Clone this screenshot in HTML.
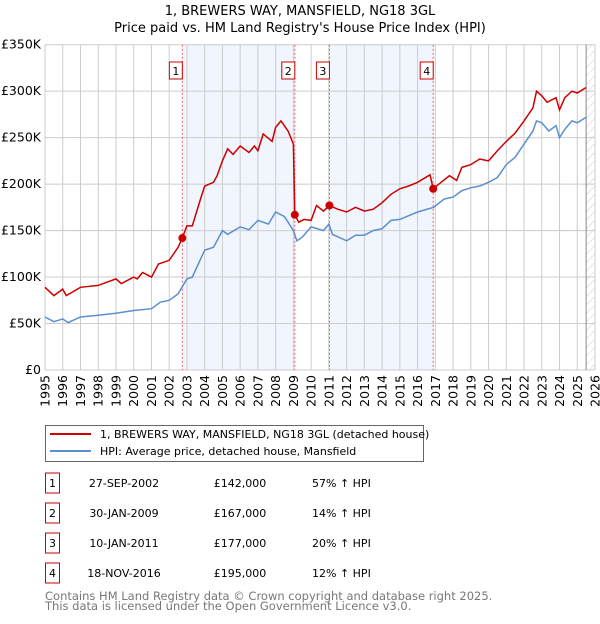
<!DOCTYPE html>
<html><head><meta charset="utf-8"><style>
body{margin:0;background:#fff;font-family:"DejaVu Sans","Liberation Sans",sans-serif;}
svg text{font-family:"DejaVu Sans","Liberation Sans",sans-serif;}
</style></head><body>
<svg id="c" width="600" height="620" xmlns="http://www.w3.org/2000/svg">
<defs><pattern id="hatch" width="6" height="6" patternUnits="userSpaceOnUse" patternTransform="rotate(45)"><line x1="0" y1="0" x2="0" y2="6" stroke="#ccc" stroke-width="1"/></pattern></defs>
<text x="300" y="15" text-anchor="middle" font-size="13">1, BREWERS WAY, MANSFIELD, NG18 3GL</text>
<text x="300" y="32" text-anchor="middle" font-size="13">Price paid vs. HM Land Registry's House Price Index (HPI)</text>
<g id="plot"></g>
<g>
<rect x="45.5" y="425.5" width="378" height="36" fill="#fff" stroke="#666"/>
<line x1="50" y1="434" x2="91" y2="434" stroke="#cc0000" stroke-width="2"/>
<text x="100" y="438" font-size="11">1, BREWERS WAY, MANSFIELD, NG18 3GL (detached house)</text>
<line x1="50" y1="451" x2="91" y2="451" stroke="#5b8fd0" stroke-width="2"/>
<text x="100" y="455" font-size="11">HPI: Average price, detached house, Mansfield</text>
</g>
<g id="tbl" font-size="11"></g>
<text x="45" y="600" font-size="11.5" fill="#777">Contains HM Land Registry data © Crown copyright and database right 2025.</text>
<text x="45" y="610" font-size="11.5" fill="#777">This data is licensed under the Open Government Licence v3.0.</text>
</svg>
<script>
const hpiYears=[1995,1995.5,1996,1996.3,1997,1998,1999,2000,2001,2001.5,2002,2002.5,2003,2003.3,2004,2004.5,2005,2005.3,2006,2006.5,2007,2007.6,2008,2008.5,2009,2009.2,2009.5,2010,2010.7,2011,2011.2,2012,2012.5,2013,2013.5,2014,2014.5,2015,2015.5,2016,2016.9,2017.5,2018,2018.5,2019,2019.5,2020,2020.5,2021,2021.5,2022,2022.5,2022.7,2023,2023.4,2023.8,2024,2024.3,2024.7,2025,2025.5];
const hpiValues=[57,52,55,51,57,59,61,64,66,73,75,82,98,100,129,132,150,146,154,151,161,157,170,165,150,139,143,154,150,157,146,139,145,145,150,152,161,162,166,170,175,184,186,193,196,198,202,207,221,229,243,257,268,266,257,263,250,259,268,266,272];
const priceYears=[1995,1995.5,1996,1996.2,1997,1998,1999,1999.3,2000,2000.2,2000.5,2001,2001.4,2002,2002.5,2002.74,2003,2003.3,2003.8,2004,2004.5,2004.7,2005,2005.3,2005.6,2006,2006.5,2006.8,2007,2007.3,2007.8,2008,2008.3,2008.7,2009,2009.08,2009.3,2009.6,2010,2010.3,2010.7,2011.03,2011.5,2012,2012.5,2013,2013.5,2014,2014.5,2015,2015.5,2016,2016.7,2016.88,2017.2,2017.8,2018.2,2018.5,2019,2019.5,2020,2020.5,2021,2021.5,2022,2022.5,2022.7,2023,2023.3,2023.8,2024,2024.3,2024.7,2025,2025.5];
const priceValues=[89,80,87,80,89,91,98,93,100,98,105,100,114,118,132,142,155,155,186,198,202,209,225,238,232,241,234,241,236,254,246,261,268,257,243,167,159,162,161,177,171,177,173,170,175,171,173,180,189,195,198,202,210,195,200,209,204,218,221,227,225,236,246,255,268,282,300,295,288,293,280,293,300,298,304];
const saleYears=[2002.74,2009.08,2011.03,2016.88];
const saleValues=[142,167,177,195];
const saleLabels=["1","2","3","4"];
const saleDates=["27-SEP-2002","30-JAN-2009","10-JAN-2011","18-NOV-2016"];
const salePrices=["£142,000","£167,000","£177,000","£195,000"];
const saleHpi=["57% ↑ HPI","14% ↑ HPI","20% ↑ HPI","12% ↑ HPI"];
const yTicks=[0,50,100,150,200,250,300,350];
const yTickLabels=["£0","£50K","£100K","£150K","£200K","£250K","£300K","£350K"];
const xTicks=[1995,1996,1997,1998,1999,2000,2001,2002,2003,2004,2005,2006,2007,2008,2009,2010,2011,2012,2013,2014,2015,2016,2017,2018,2019,2020,2021,2022,2023,2024,2025,2026];

const L=45,R=595,T=44.7,B=370;
const X=y=>L+(y-1995)*(R-L)/31;
const Y=v=>B-v*(B-T)/350;
const NS="http://www.w3.org/2000/svg";
const plot=document.getElementById('plot');
function mk(tag,attrs,parent){const e=document.createElementNS(NS,tag);for(const k in attrs)e.setAttribute(k,attrs[k]);(parent||plot).appendChild(e);return e;}

// shaded ownership regions
for(const [a,b] of [[0,1],[2,3]]){
  const r=mk('rect',{x:X(saleYears[a]),y:T,width:X(saleYears[b])-X(saleYears[a]),height:B-T,fill:'#eef3fc',opacity:0.8});
  
  
}
// hatch future
const h=mk('rect',{x:X(2025.5),y:T,width:R-X(2025.5),height:B-T,fill:'url(#hatch)'});


// grid
yTicks.forEach((v,i)=>{
  const g=mk('line',{x1:L,x2:R,y1:Y(v),y2:Y(v),stroke:'#ccc','stroke-width':1});
  
  
  const t=mk('text',{x:L-4,y:Y(v)+4,'text-anchor':'end','font-size':12.5});
  t.textContent=yTickLabels[i];
  
  
});
xTicks.forEach(yr=>{
  const g=mk('line',{x1:X(yr),x2:X(yr),y1:T,y2:B,stroke:'#ccc','stroke-width':1});
  
  
  const t=mk('text',{x:0,y:0,'text-anchor':'end','font-size':12.5,transform:`translate(${X(yr)+4.5},${B+5}) rotate(-90)`});
  t.textContent=yr;
  
  
});
const vl=mk('line',{x1:X(2025.5),x2:X(2025.5),y1:T,y2:B,stroke:'#888','stroke-width':1});


// sale markers dashed
saleYears.forEach((yr,i)=>{
  const l=mk('line',{x1:X(yr),x2:X(yr),y1:T,y2:B,stroke:'#e06060','stroke-width':1,'stroke-dasharray':'2,2'});
  
  
  const bx=mk('rect',{x:X(yr)-13,y:62,width:13,height:17,fill:'#fff',stroke:'#cc0000'});
  
  
  const t=mk('text',{x:X(yr)-6.5,y:75,'text-anchor':'middle','font-size':11});
  t.textContent=saleLabels[i];
  
  
});
const line=(xs,vs,col)=>xs.map((x,i)=>(i?'L':'M')+X(x).toFixed(1)+','+Y(vs[i]).toFixed(1)).join('');
const hp=mk('path',{d:line(hpiYears,hpiValues),fill:'none',stroke:'#5b8fd0','stroke-width':1.5});


const pp=mk('path',{d:line(priceYears,priceValues),fill:'none',stroke:'#cc0000','stroke-width':1.5});


saleYears.forEach((yr,i)=>{
  const c=mk('circle',{cx:X(yr),cy:Y(saleValues[i]),r:4,fill:'#cc0000'});
  
  
});
// table
const tbl=document.getElementById('tbl');
saleLabels.forEach((lab,i)=>{
  const cy=483+i*30;
  const b=mk('rect',{x:45.5,y:cy-10,width:14,height:20,fill:'#fff',stroke:'#cc0000'},tbl);
  
  
  const cells=[[52.5,lab,'middle'],[124,saleDates[i],'middle'],[240,salePrices[i],'middle'],[312,saleHpi[i],'start']];
  cells.forEach(([x,s,a])=>{
    const t=mk('text',{x:x,y:cy+4,'text-anchor':a},tbl);
    t.textContent=s;
    
    
  });
});
</script>
</body></html>
